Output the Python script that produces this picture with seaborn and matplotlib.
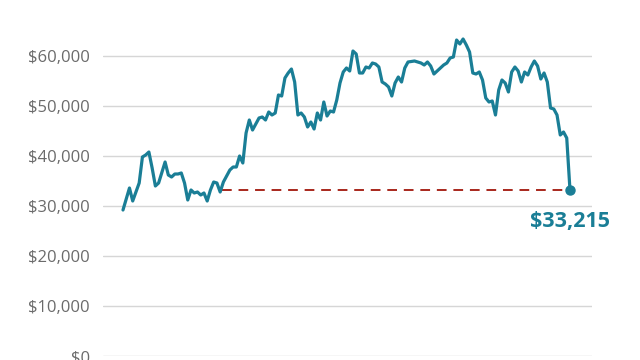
import matplotlib
matplotlib.use("Agg")
import matplotlib.pyplot as plt
import seaborn as sns
import pandas as pd
from matplotlib.ticker import FuncFormatter

# Day offsets (x) and price values
days = [0, 2, 3, 5, 6, 7, 8, 9, 10, 11, 13, 14, 15, 16, 17, 18, 19, 20, 21, 22,
        23, 24, 25, 26, 27, 28, 29, 30, 31, 33, 34, 35, 36, 37, 38, 39, 40, 42,
        43, 44, 45, 46, 47, 48, 49, 50, 51, 52, 53, 54, 55, 56, 57, 58, 59, 60,
        61, 62, 63, 64, 65, 66, 67, 68, 69, 70, 71, 72, 73, 74, 75, 76, 77, 78,
        79, 80, 81, 82, 83, 84, 85, 86, 87, 88, 90, 92, 93, 94, 95, 96, 98, 99,
        100, 101, 102, 103, 104, 105, 106, 107, 108, 109, 110, 111, 112, 113,
        114, 115, 116, 117, 118, 119, 120, 121, 122, 123, 124, 125, 126, 127,
        128, 129, 130, 131, 132, 133, 134, 135, 136, 137, 138]
prices = [29200, 33600, 31000, 34600, 39800, 40200, 40800, 37600, 34000, 34600,
          38800, 36200, 35800, 36400, 36400, 36600, 34600, 31200, 33200, 32600,
          32800, 32200, 32600, 31000, 33200, 34800, 34600, 32800, 34800, 37200,
          37800, 37800, 40000, 38600, 44600, 47200, 45200, 47600, 47800, 47200,
          48800, 48200, 48600, 52200, 52000, 55600, 56600, 57400, 54800, 48200,
          48600, 47800, 45800, 46800, 45400, 48600, 47200, 50800, 48000, 49000,
          48800, 51200, 54600, 56800, 57600, 57000, 61000, 60400, 56600, 56600,
          57800, 57600, 58600, 58400, 57800, 54800, 54400, 53800, 52000, 54600,
          55800, 54800, 57600, 58800, 59000, 58600, 58200, 58800, 58000, 56400,
          57600, 58200, 58600, 59600, 59800, 63200, 62400, 63400, 62200, 60800,
          56600, 56400, 56800, 55200, 51600, 50800, 51000, 48200, 53200, 55200,
          54600, 52800, 56800, 57800, 57000, 54800, 56800, 56200, 57800, 59000,
          58000, 55400, 56600, 54800, 49600, 49400, 48200, 44200, 44800, 43600,
          33215]
yticks = [0, 10000, 20000, 30000, 40000, 50000, 60000]
last_label = "$33,215"
ref_start_day = 30.6

df = pd.DataFrame({"day": days, "price": prices})

sns.set_theme(style="white")
plt.rcParams["font.family"] = ["Open Sans", "DejaVu Sans"]

TEAL = "#1a7e96"
RED = "#a8271c"
GREY = "#6b6b6b"

fig = plt.figure(figsize=(6.4, 3.6), dpi=100)
ax = fig.add_axes([103 / 640, 4 / 360, 489 / 640, 340 / 360])

ax.set_xlim(-6.17, 144.8)
ax.set_ylim(0, 68000)

ax.set_yticks(yticks)
ax.yaxis.set_major_formatter(FuncFormatter(lambda v, p: f"${int(v):,}"))
ax.set_xticks([])
ax.tick_params(axis="y", length=0, pad=9.5, labelsize=12, labelcolor=GREY)
ax.grid(axis="y", color="#d6d6d6", linewidth=1.0)
ax.set_axisbelow(True)
for s in ax.spines.values():
    s.set_visible(False)

last_day = days[-1]
last_val = prices[-1]
ax.plot([ref_start_day, last_day], [last_val, last_val], color=RED,
        linewidth=1.4, dashes=(5, 3.5), zorder=2)

sns.lineplot(data=df, x="day", y="price", ax=ax, color=TEAL, linewidth=2.3,
             zorder=3)
ax.plot([last_day], [last_val], marker="o", markersize=6.5, color=TEAL,
        zorder=4, clip_on=False)
ax.annotate(last_label, xy=(last_day, last_val), xytext=(0, -23),
            textcoords="offset points", ha="center", va="center",
            fontsize=15.5, fontweight="bold", color=TEAL)

ax.set_xlabel("")
ax.set_ylabel("")

fig.savefig("out.png", dpi=100)
